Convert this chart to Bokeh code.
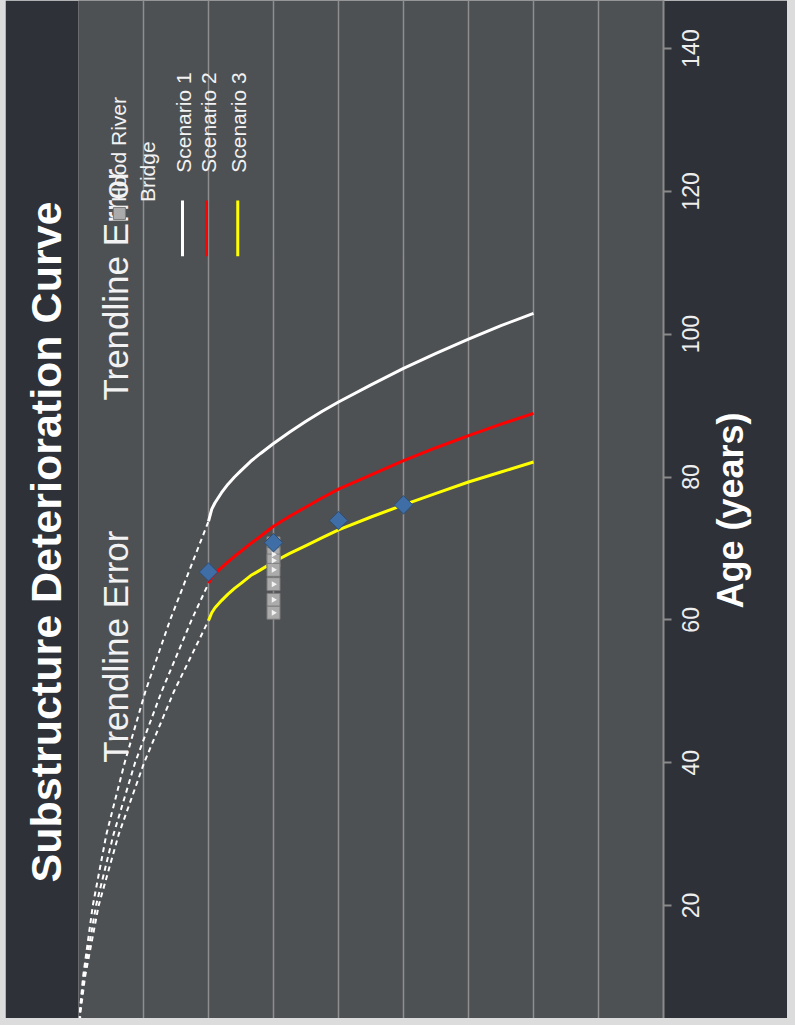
import math
from bokeh.plotting import figure
from bokeh.models import Range1d, LinearAxis, FixedTicker, Grid
from bokeh.embed import file_html
from bokeh.resources import INLINE
from bokeh.core.properties import value

# ---------------- data ----------------
rating_levels = [1, 2, 3, 4, 5, 6, 7, 8]
age_ticks = [20, 40, 60, 80, 100, 120, 140]
age_tick_labels = ["20", "40", "60", "80", "100", "120", "140"]
axis_title = "Age (years)"

curve_ratings = [7, 6.95, 6.9, 6.8, 6.7, 6.6, 6.5, 6.35, 6.2, 6, 5.75, 5.5, 5.25, 5, 4.5, 4, 3.5, 3, 2.5, 2]
s1_age = [73.8, 75.5, 76.4, 77.8, 79.0, 80.0, 80.9, 82.2, 83.3, 84.7, 86.3, 87.8, 89.2, 90.5, 92.9, 95.2, 97.3, 99.3, 101.2, 102.9]
s2_age = [65.1, 66.0, 66.5, 67.3, 68.1, 68.9, 69.6, 70.7, 71.7, 73.1, 74.5, 75.8, 77.1, 78.3, 80.3, 82.3, 84.1, 85.8, 87.4, 88.9]
s3_age = [59.9, 61.0, 61.7, 62.7, 63.6, 64.4, 65.1, 66.2, 67.0, 68.1, 69.3, 70.4, 71.5, 72.6, 74.4, 76.1, 77.7, 79.3, 80.7, 82.1]

dash1_age = [0, 5, 10, 20, 30, 40, 50, 60, 73.8]
dash1_rating = [9.0, 8.98, 8.93, 8.78, 8.57, 8.29, 7.97, 7.59, 7.0]
dash2_age = [0, 5, 10, 20, 30, 40, 50, 60, 65.1]
dash2_rating = [9.0, 8.98, 8.92, 8.73, 8.46, 8.13, 7.72, 7.26, 7.0]
dash3_age = [0, 5, 10, 20, 30, 40, 50, 59.9]
dash3_rating = [9.0, 8.97, 8.90, 8.69, 8.38, 7.99, 7.53, 7.0]

bridge_rating = [7, 6, 5, 4]
bridge_age = [66.7, 70.8, 73.9, 76.1]

err_rating = [6, 6, 6, 6, 6, 6, 6]
err_age = [70.7, 69.2, 68.3, 67.0, 65.0, 62.8, 61.0]

series_names = ["Scenario 1", "Scenario 2", "Scenario 3"]
series_colors = ["#ffffff", "#ff0000", "#ffff00"]

# ---------------- figure ----------------
BG_OUT = "#2e3238"
BG_IN = "#4e5154"
FONT = "Liberation Sans"
W, H = 782, 1018
Y0, Y1 = 4.18, 146.72
PX_PER_YR = H / (Y1 - Y0)
TICK_FS = 23
AXT_FS = 36

p = figure(width=W, height=H,
           x_range=Range1d(9, 0), y_range=Range1d(Y0, Y1),
           x_axis_location=None, y_axis_location=None,
           output_backend="svg", toolbar_location=None,
           title="Substructure Deterioration Curve", title_location="left",
           min_border_left=73, min_border_right=124,
           min_border_top=0, min_border_bottom=0)
p.background_fill_color = BG_IN
p.border_fill_color = BG_OUT
p.outline_line_color = None
p.xgrid.visible = False
p.ygrid.visible = False

p.title.text_font = FONT
p.title.text_font_size = "43px"
p.title.text_font_style = "bold"
p.title.text_color = "#ffffff"
p.title.align = "left"
p.title.offset = 136
p.title.standoff = 18

grid = Grid(dimension=0, ticker=FixedTicker(ticks=rating_levels),
            grid_line_color="#8e8e8e", grid_line_width=1.5)
p.add_layout(grid)

# axis B: axis line, tick marks (as minor ticks at the real ages) and
# rotated tick labels centred on those tick marks
def half_len(label, fs):
    return len(label) * 0.556 * fs / 2.0 / PX_PER_YR

lab_pos = [round(t - half_len(s, TICK_FS), 3) for t, s in zip(age_ticks, age_tick_labels)]
axB = LinearAxis(ticker=FixedTicker(ticks=lab_pos, minor_ticks=age_ticks))
axB.major_label_overrides = {pos: s for pos, s in zip(lab_pos, age_tick_labels)}
axB.axis_line_color = "#8a8a8a"
axB.axis_line_width = 2
axB.major_tick_line_color = None
axB.major_tick_out = 8
axB.major_tick_in = 0
axB.minor_tick_line_color = "#8a8a8a"
axB.minor_tick_line_width = 2
axB.minor_tick_out = 8
axB.minor_tick_in = 0
axB.major_label_orientation = math.pi / 2
axB.major_label_text_font = FONT
axB.major_label_text_font_size = f"{TICK_FS}px"
axB.major_label_text_color = "#eeeeee"
axB.major_label_standoff = 19
p.add_layout(axB, "right")

# axis C: the rotated axis title
title_pos = round((Y0 + Y1) / 2 - len(axis_title) * 0.5 * AXT_FS / 2.0 / PX_PER_YR, 3)
axC = LinearAxis(ticker=FixedTicker(ticks=[title_pos]))
axC.major_label_overrides = {title_pos: axis_title}
axC.axis_line_color = None
axC.major_tick_line_color = None
axC.major_tick_out = 0
axC.major_tick_in = 0
axC.minor_tick_out = 0
axC.minor_tick_in = 0
axC.major_label_orientation = math.pi / 2
axC.major_label_text_font = FONT
axC.major_label_text_font_size = f"{AXT_FS}px"
axC.major_label_text_font_style = "bold"
axC.major_label_text_color = "#ffffff"
axC.major_label_standoff = 20
p.add_layout(axC, "right")

# dashed back-extrapolations
for xs, ys in [(dash1_rating, dash1_age), (dash2_rating, dash2_age), (dash3_rating, dash3_age)]:
    p.line(xs, ys, line_color="#ffffff", line_width=2, line_dash="5 4")

# scenario curves
for ages, col in zip([s1_age, s2_age, s3_age], series_colors):
    p.line(curve_ratings, ages, line_color=col, line_width=3)

# trendline error markers
p.scatter(err_rating, err_age, marker="square", size=13, fill_color="#ababab",
          line_color="#7c7c7c", line_width=1)
p.scatter(err_rating, err_age, marker="triangle", angle=-math.pi / 2, size=6,
          fill_color="#f2f2f2", line_color=None)

# bridge data
p.scatter(bridge_rating, bridge_age, marker="square", angle=math.pi / 4, size=13,
          fill_color="#3f6ea6", line_color="#2c4d75", line_width=1)

# annotation texts
p.text(x=[8.43, 8.43], y=[40.0, 90.7], text=["Trendline Error", "Trendline Error"],
       angle=math.pi / 2, text_align="left", text_baseline="middle",
       text_font=value(FONT), text_font_size="35px", text_color="#f2f2f2")

# legend (rotated)
p.scatter([8.37], [116.9], marker="square", size=12, fill_color="#ababab",
          line_color="#7c7c7c")
p.text(x=[8.385, 7.94], y=[118.5, 118.5], text=["Hood River", "Bridge"],
       angle=math.pi / 2, text_align="left", text_baseline="middle",
       text_font=value(FONT), text_font_size="21px", text_color="#f2f2f2")
leg_x = [7.4, 7.03, 6.55]
p.segment(x0=leg_x, y0=[110.9] * 3, x1=leg_x, y1=[118.7] * 3,
          line_color=series_colors, line_width=3)
p.text(x=[7.385, 7.0, 6.54], y=[122.6] * 3, text=series_names,
       angle=math.pi / 2, text_align="left", text_baseline="middle",
       text_font=value(FONT), text_font_size="21px", text_color="#f2f2f2")

page_template = """
{% block postamble %}<style>html, body { background: #dcdcdc; } body { margin: 0 0 0 5px !important; }</style>{% endblock %}
"""
open("out.html", "w").write(file_html(p, INLINE, template=page_template))
